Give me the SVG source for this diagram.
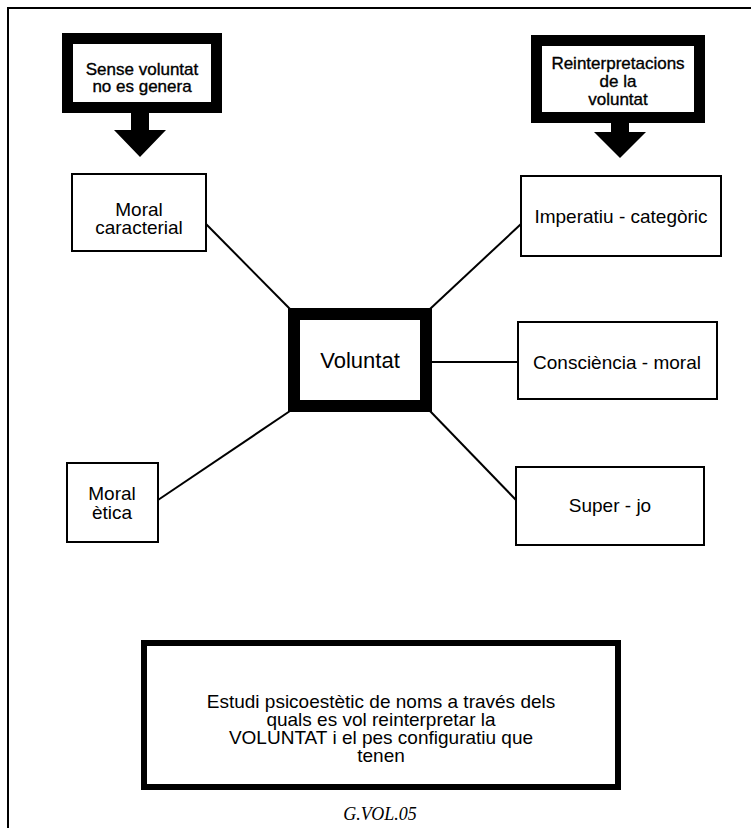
<svg xmlns="http://www.w3.org/2000/svg" width="751" height="828" viewBox="0 0 751 828">
<style>
.box{fill:#fff;stroke:#000}
.thick{fill:#fff;stroke:#000;stroke-width:11}
.lbl{font-family:"Liberation Sans",Arial,sans-serif;font-size:19px;fill:#000;text-anchor:middle}
.top{font-size:17px;stroke:#000;stroke-width:0.35}
.con{stroke:#000;stroke-width:2;fill:none}
</style>
<rect width="751" height="828" fill="#fff"/>
<path d="M8,830 V8 H751" fill="none" stroke="#000" stroke-width="2"/>
<g id="connectors">
<line class="con" x1="206" y1="224" x2="290" y2="309"/>
<line class="con" x1="430" y1="309" x2="521" y2="224"/>
<line class="con" x1="432" y1="362" x2="518" y2="362"/>
<line class="con" x1="290" y1="411" x2="158" y2="500"/>
<line class="con" x1="430" y1="411" x2="516" y2="500"/>
<polygon points="131,112 149,112 149,130 166,130 140,157 114,130 131,130" fill="#000"/>
<polygon points="611,122 629,122 629,132 646,132 620,158 594,132 611,132" fill="#000"/>
</g>
<g id="sense">
<rect class="thick" x="67.5" y="38.5" width="149" height="69"/>
<text class="lbl top" x="142" y="75">Sense voluntat</text>
<text class="lbl top" x="142" y="92">no es genera</text>
</g>
<g id="reinterpretacions">
<rect class="thick" x="536.5" y="40.5" width="163" height="77"/>
<text class="lbl top" x="618" y="69">Reinterpretacions</text>
<text class="lbl top" x="618" y="87">de la</text>
<text class="lbl top" x="618" y="105">voluntat</text>
</g>
<g id="moral-caracterial">
<rect class="box" x="72" y="174" width="134" height="77" style="stroke-width:2"/>
<text class="lbl" x="139" y="216">Moral</text>
<text class="lbl" x="139" y="234">caracterial</text>
</g>
<g id="imperatiu">
<rect class="box" x="521" y="176" width="200" height="80" style="stroke-width:2"/>
<text class="lbl" x="621" y="223">Imperatiu - categòric</text>
</g>
<g id="voluntat">
<rect class="box" x="294" y="314" width="132" height="92" style="stroke-width:12"/>
<text class="lbl" x="360" y="368" style="font-size:22px">Voluntat</text>
</g>
<g id="consciencia">
<rect class="box" x="518" y="322" width="199" height="77" style="stroke-width:2"/>
<text class="lbl" x="617" y="369">Consciència - moral</text>
</g>
<g id="moral-etica">
<rect class="box" x="67" y="463" width="91" height="79" style="stroke-width:2"/>
<text class="lbl" x="112" y="500">Moral</text>
<text class="lbl" x="112" y="519">ètica</text>
</g>
<g id="super-jo">
<rect class="box" x="516" y="467" width="188" height="78" style="stroke-width:2"/>
<text class="lbl" x="610" y="512">Super - jo</text>
</g>
<g id="estudi">
<rect class="box" x="144" y="643" width="474" height="144" style="stroke-width:6"/>
<text class="lbl" x="381" y="708">Estudi psicoestètic de noms a través dels</text>
<text class="lbl" x="381" y="726">quals es vol reinterpretar la</text>
<text class="lbl" x="381" y="744">VOLUNTAT i el pes configuratiu que</text>
<text class="lbl" x="381" y="762">tenen</text>
</g>
<text x="380" y="820" font-family="'Liberation Serif','Times New Roman',serif" font-style="italic" font-size="18" text-anchor="middle">G.VOL.05</text>
</svg>
